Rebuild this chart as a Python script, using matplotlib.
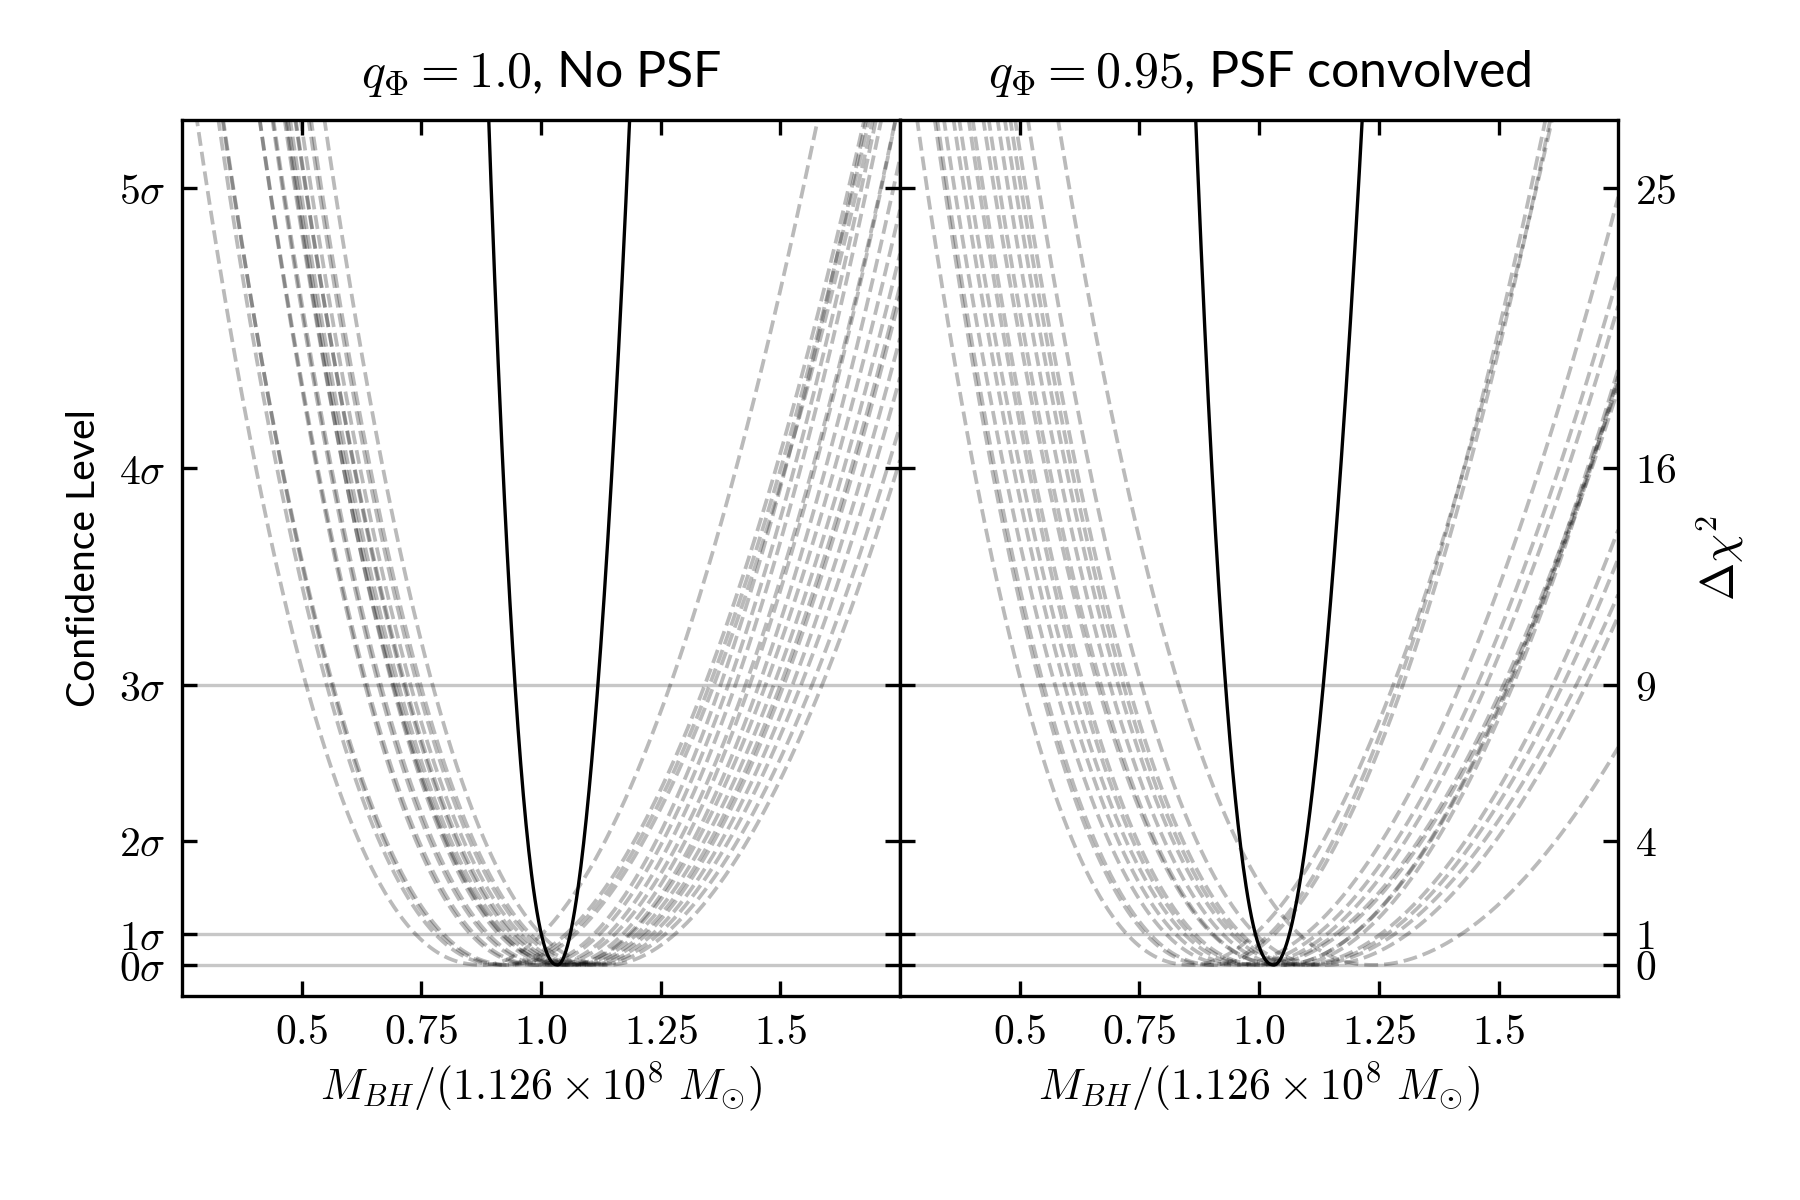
import numpy as np
import matplotlib
matplotlib.use('Agg')
import matplotlib.pyplot as plt

plt.rcParams['mathtext.fontset'] = 'cm'
plt.rcParams['font.family'] = ['Lato', 'DejaVu Sans']

# ---------------- data ----------------
panel_titles = [r'$q_\Phi = 1.0$, No PSF', r'$q_\Phi = 0.95$, PSF convolved']
x_label = r'$M_{BH}/(1.126\times10^{8}\ M_{\odot})$'
left_ylabel = 'Confidence Level'
right_ylabel = r'$\Delta\chi^2$'

dchi2_ticks = [0, 1, 4, 9, 16, 25]
sigma_labels = [r'$0\sigma$', r'$1\sigma$', r'$2\sigma$', r'$3\sigma$', r'$4\sigma$', r'$5\sigma$']
dchi2_labels = [r'$0$', r'$1$', r'$4$', r'$9$', r'$16$', r'$25$']
x_ticks = [0.5, 0.75, 1.0, 1.25, 1.5]
x_tick_labels = [r'$0.5$', r'$0.75$', r'$1.0$', r'$1.25$', r'$1.5$']
ref_levels = [0, 1, 9]

# Left panel (No PSF): minimum of each mock curve and its crossings of the 3-sigma line
nopsf_min = [0.88, 0.92, 0.93, 0.94, 0.99, 1.00, 1.02, 1.03, 1.05,
             1.06, 1.06, 1.07, 1.08, 1.09, 1.10, 1.11, 1.12, 1.14]
nopsf_left9 = [0.510, 0.553, 0.563, 0.566, 0.633, 0.637, 0.661, 0.666, 0.690,
               0.692, 0.696, 0.703, 0.714, 0.717, 0.728, 0.742, 0.749, 0.774]
nopsf_right9 = [1.270, 1.342, 1.352, 1.361, 1.375, 1.391, 1.406, 1.427, 1.436,
                1.455, 1.469, 1.486, 1.500, 1.507, 1.525, 1.543, 1.566, 1.587]

# Right panel (PSF convolved)
psf_min = [0.86, 0.90, 0.91, 0.95, 0.97, 0.99, 1.00, 1.01,
           1.05, 1.05, 1.07, 1.09, 1.10, 1.11, 1.14, 1.24]
psf_left9 = [0.505, 0.543, 0.550, 0.574, 0.594, 0.609, 0.625, 0.634,
             0.663, 0.670, 0.689, 0.706, 0.717, 0.727, 0.755, 0.832]
psf_right9 = [1.280, 1.290, 1.300, 1.420, 1.455, 1.474, 1.510, 1.516,
              1.520, 1.523, 1.530, 1.613, 1.634, 1.662, 1.683, 1.822]

# Best-fit (data) curve in each panel
best_min = [1.035, 1.031]
best_left9 = [0.946, 0.930]
best_right9 = [1.119, 1.134]

# curve shape exponents (left / right side of the minimum)
P_LEFT, P_RIGHT = 2.3, 1.9


def dchi2_curve(x, x0, xl9, xr9):
    d = x - x0
    y = np.where(d < 0,
                 9.0 * (np.abs(d) / (x0 - xl9)) ** P_LEFT,
                 9.0 * (np.abs(d) / (xr9 - x0)) ** P_RIGHT)
    return y


fig, axes = plt.subplots(1, 2, figsize=(6, 4), dpi=300)
fig.subplots_adjust(left=0.101, right=0.899, top=0.90, bottom=0.17, wspace=0)

xg = np.linspace(0.25, 1.75, 800)
panels = [(nopsf_min, nopsf_left9, nopsf_right9),
          (psf_min, psf_left9, psf_right9)]

for i, ax in enumerate(axes):
    mins, l9, r9 = panels[i]
    for x0, xl, xr in zip(mins, l9, r9):
        ax.plot(xg, dchi2_curve(xg, x0, xl, xr), ls='--', color='k',
                alpha=0.27, lw=0.9, zorder=2)
    for lv in ref_levels:
        ax.axhline(lv, color='0.78', lw=0.8, zorder=1)
    ax.plot(xg, dchi2_curve(xg, best_min[i], best_left9[i], best_right9[i]),
            color='k', lw=0.8, zorder=3)

    ax.set_xlim(0.25, 1.75)
    ax.set_ylim(-1.0, 27.2)
    ax.set_xticks(x_ticks)
    ax.set_xticklabels(x_tick_labels, fontsize=10)
    ax.set_yticks(dchi2_ticks)
    ax.set_xlabel(x_label, fontsize=10.5, labelpad=2)
    ax.set_title(panel_titles[i], fontsize=12, pad=8)
    ax.tick_params(direction='in', length=3.5, width=0.8, top=True, right=True,
                   labelsize=10)
    ax.tick_params(axis='x', pad=4)
    ax.tick_params(axis='y', pad=4)
    for sp in ax.spines.values():
        sp.set_linewidth(0.8)

axes[0].set_yticklabels(sigma_labels, fontsize=10)
axes[0].set_ylabel(left_ylabel, fontsize=9.4, labelpad=4)
axes[1].tick_params(axis='y', labelleft=False, labelright=True)
axes[1].set_yticklabels(dchi2_labels, fontsize=10)
axes[1].yaxis.set_label_position('right')
axes[1].set_ylabel(right_ylabel, fontsize=11, labelpad=4)

fig.savefig('out.png', dpi=300)
